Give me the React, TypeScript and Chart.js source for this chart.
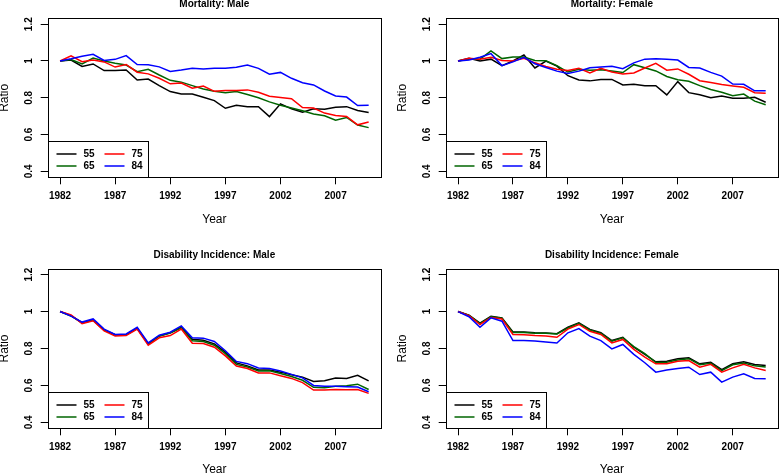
import React, { useEffect, useRef } from 'react';
import { Chart, registerables } from 'chart.js';

Chart.register(...registerables);

const FONT = '"Liberation Sans", Arial, Helvetica, sans-serif';

const years = [1982, 1983, 1984, 1985, 1986, 1987, 1988, 1989, 1990, 1991, 1992, 1993, 1994, 1995, 1996, 1997, 1998, 1999, 2000, 2001, 2002, 2003, 2004, 2005, 2006, 2007, 2008, 2009, 2010];
const xTickYears = [1982, 1987, 1992, 1997, 2002, 2007];
const yTickValues = [0.4, 0.6, 0.8, 1.0, 1.2];
const ageLabels = ['55', '65', '75', '84'];
const ageColors = ['#000000', '#006400', '#ff0000', '#0000ff'];

// Mortality: Male
const mortMale55 = [1.000, 1.005, 0.970, 0.984, 0.948, 0.948, 0.951, 0.897, 0.902, 0.866, 0.834, 0.821, 0.820, 0.803, 0.785, 0.743, 0.760, 0.752, 0.752, 0.698, 0.767, 0.740, 0.722, 0.740, 0.738, 0.749, 0.752, 0.731, 0.720];
const mortMale65 = [1.000, 1.008, 0.984, 1.016, 1.000, 0.988, 0.978, 0.942, 0.955, 0.924, 0.895, 0.885, 0.866, 0.848, 0.836, 0.828, 0.834, 0.818, 0.800, 0.778, 0.760, 0.745, 0.730, 0.712, 0.702, 0.678, 0.693, 0.652, 0.638];
const mortMale75 = [1.000, 1.028, 0.996, 1.005, 0.995, 0.967, 0.981, 0.939, 0.930, 0.906, 0.876, 0.880, 0.852, 0.864, 0.835, 0.839, 0.840, 0.843, 0.830, 0.808, 0.801, 0.795, 0.747, 0.744, 0.717, 0.704, 0.699, 0.653, 0.668];
const mortMale84 = [1.000, 1.012, 1.026, 1.036, 1.003, 1.009, 1.029, 0.981, 0.979, 0.968, 0.943, 0.951, 0.961, 0.957, 0.961, 0.960, 0.966, 0.978, 0.960, 0.928, 0.938, 0.906, 0.882, 0.870, 0.837, 0.810, 0.804, 0.758, 0.760];

// Mortality: Female
const mortFemale55 = [1.000, 1.015, 1.000, 1.010, 0.975, 1.000, 1.033, 0.962, 1.000, 0.972, 0.920, 0.897, 0.892, 0.900, 0.900, 0.870, 0.874, 0.865, 0.866, 0.816, 0.888, 0.828, 0.816, 0.800, 0.810, 0.797, 0.797, 0.803, 0.776];
const mortFemale65 = [1.000, 1.010, 1.010, 1.055, 1.013, 1.022, 1.022, 1.003, 1.001, 0.975, 0.940, 0.955, 0.950, 0.953, 0.945, 0.937, 0.980, 0.963, 0.946, 0.916, 0.898, 0.890, 0.866, 0.845, 0.830, 0.811, 0.820, 0.782, 0.762];
const mortFemale75 = [1.000, 1.015, 1.010, 1.020, 1.003, 1.000, 1.015, 0.990, 0.970, 0.955, 0.948, 0.960, 0.935, 0.960, 0.940, 0.930, 0.935, 0.962, 0.987, 0.950, 0.957, 0.928, 0.893, 0.883, 0.872, 0.864, 0.857, 0.828, 0.825];
const mortFemale84 = [1.000, 1.005, 1.020, 1.040, 0.975, 0.995, 1.020, 0.985, 0.965, 0.945, 0.932, 0.945, 0.963, 0.968, 0.972, 0.958, 0.990, 1.010, 1.012, 1.010, 1.005, 0.965, 0.962, 0.938, 0.918, 0.875, 0.873, 0.838, 0.838];

// Disability incidence: Male
const disMale55 = [1.000, 0.978, 0.940, 0.955, 0.900, 0.875, 0.875, 0.910, 0.825, 0.868, 0.885, 0.915, 0.850, 0.845, 0.825, 0.780, 0.722, 0.706, 0.684, 0.684, 0.672, 0.658, 0.645, 0.622, 0.625, 0.640, 0.638, 0.655, 0.625];
const disMale65 = [1.000, 0.976, 0.938, 0.953, 0.900, 0.873, 0.875, 0.908, 0.825, 0.868, 0.884, 0.912, 0.842, 0.838, 0.818, 0.772, 0.714, 0.700, 0.678, 0.680, 0.665, 0.648, 0.628, 0.590, 0.588, 0.595, 0.598, 0.607, 0.578];
const disMale75 = [1.000, 0.982, 0.935, 0.950, 0.895, 0.868, 0.870, 0.905, 0.818, 0.858, 0.870, 0.905, 0.828, 0.827, 0.807, 0.760, 0.705, 0.692, 0.668, 0.668, 0.652, 0.638, 0.615, 0.575, 0.575, 0.578, 0.577, 0.578, 0.557];
const disMale84 = [1.000, 0.975, 0.943, 0.960, 0.905, 0.876, 0.879, 0.915, 0.830, 0.872, 0.888, 0.922, 0.858, 0.856, 0.838, 0.788, 0.730, 0.718, 0.695, 0.692, 0.678, 0.660, 0.641, 0.600, 0.596, 0.596, 0.593, 0.591, 0.566];

// Disability incidence: Female
const disFemale55 = [1.000, 0.980, 0.937, 0.975, 0.966, 0.890, 0.889, 0.885, 0.884, 0.880, 0.915, 0.939, 0.903, 0.885, 0.843, 0.861, 0.807, 0.768, 0.728, 0.731, 0.744, 0.750, 0.717, 0.726, 0.686, 0.717, 0.728, 0.714, 0.708];
const disFemale65 = [1.000, 0.979, 0.935, 0.972, 0.964, 0.886, 0.886, 0.882, 0.882, 0.878, 0.911, 0.936, 0.900, 0.882, 0.840, 0.858, 0.810, 0.772, 0.724, 0.726, 0.738, 0.745, 0.712, 0.720, 0.680, 0.712, 0.722, 0.706, 0.700];
const disFemale75 = [1.000, 0.978, 0.930, 0.968, 0.960, 0.876, 0.874, 0.870, 0.868, 0.861, 0.905, 0.930, 0.893, 0.876, 0.830, 0.849, 0.795, 0.753, 0.717, 0.718, 0.731, 0.735, 0.699, 0.714, 0.672, 0.695, 0.714, 0.695, 0.681];
const disFemale84 = [1.000, 0.972, 0.915, 0.966, 0.948, 0.843, 0.843, 0.840, 0.835, 0.830, 0.885, 0.908, 0.867, 0.843, 0.798, 0.822, 0.768, 0.723, 0.672, 0.683, 0.692, 0.699, 0.659, 0.672, 0.618, 0.645, 0.663, 0.638, 0.636];

const frameAndLegend = {
  id: 'frameAndLegend',
  afterDraw(chart: any) {
    const { ctx, chartArea: a } = chart;
    ctx.save();
    ctx.strokeStyle = '#000';
    ctx.lineWidth = 1;
    const l = Math.round(a.left) + 0.5;
    const t = Math.round(a.top) + 0.5;
    const r = Math.round(a.right) + 0.5;
    const b = Math.round(a.bottom) + 0.5;
    ctx.strokeRect(l, t, r - l, b - t);
    // legend box (bottom-left, two columns, column-major order)
    const lw = 100;
    const lh = 36;
    const x0 = l;
    const y0 = b - lh;
    ctx.fillStyle = '#fff';
    ctx.fillRect(x0, y0, lw, lh);
    ctx.strokeRect(x0, y0, lw, lh);
    ctx.font = `bold 10px ${FONT}`;
    ctx.textAlign = 'left';
    ctx.textBaseline = 'middle';
    chart.data.datasets.forEach((ds: any, i: number) => {
      const col = Math.floor(i / 2);
      const row = i % 2;
      const cx = x0 + col * 48;
      const cy = y0 + 12.5 + row * 12;
      ctx.strokeStyle = ds.borderColor;
      ctx.lineWidth = 1.5;
      ctx.beginPath();
      ctx.moveTo(cx + 8, cy);
      ctx.lineTo(cx + 28, cy);
      ctx.stroke();
      ctx.fillStyle = '#000';
      ctx.fillText(ds.label, cx + 35, cy + 0.5);
    });
    ctx.restore();
  },
};

type PanelProps = {
  title: string;
  series: number[][];
  left: number;
  top: number;
  width: number;
  height: number;
  yW: number;
  xH: number;
  padRight: number;
  titlePadBottom: number;
};

function Panel(p: PanelProps) {
  const ref = useRef<HTMLCanvasElement>(null);
  useEffect(() => {
    if (!ref.current) return;
    const datasets = p.series.map((vals, i) => ({
      label: ageLabels[i],
      data: years.map((yr, j) => ({ x: yr, y: vals[j] })),
      borderColor: ageColors[i],
      backgroundColor: ageColors[i],
      borderWidth: 1.5,
      pointRadius: 0,
      tension: 0,
      fill: false,
      order: 3 - i,
    }));
    const chart = new Chart(ref.current, {
      type: 'line',
      data: { datasets },
      options: {
        animation: false,
        responsive: false,
        devicePixelRatio: 1,
        layout: { padding: { top: 0, left: 0, right: p.padRight, bottom: 0 } },
        plugins: {
          legend: { display: false },
          tooltip: { enabled: false },
          title: {
            display: true,
            text: p.title,
            fullSize: false,
            color: '#000',
            font: { family: FONT, size: 10, weight: 'bold', lineHeight: 1.2 },
            padding: { top: 0, bottom: p.titlePadBottom },
          },
        },
        scales: {
          x: {
            type: 'linear',
            min: 1980.88,
            max: 2011.12,
            afterBuildTicks: (s: any) => {
              s.ticks = xTickYears.map((v) => ({ value: v }));
            },
            afterFit: (s: any) => {
              s.height = p.xH;
            },
            grid: { drawOnChartArea: false, drawTicks: true, tickLength: 7, color: '#000', lineWidth: 1 },
            border: { display: false },
            ticks: {
              autoSkip: false,
              maxRotation: 0,
              minRotation: 0,
              padding: 5.5,
              color: '#000',
              font: { family: FONT, size: 10, weight: 'bold', lineHeight: 1.2 },
              callback: (v: any) => String(v),
            },
            title: {
              display: true,
              text: 'Year',
              color: '#000',
              font: { family: FONT, size: 12, lineHeight: 1 },
              padding: { top: 0, bottom: 0 },
            },
          },
          y: {
            type: 'linear',
            min: 0.368,
            max: 1.232,
            afterBuildTicks: (s: any) => {
              s.ticks = yTickValues.map((v) => ({ value: v }));
            },
            afterFit: (s: any) => {
              s.width = p.yW;
            },
            grid: { drawOnChartArea: false, drawTicks: true, tickLength: 7, color: '#000', lineWidth: 1 },
            border: { display: false },
            ticks: {
              autoSkip: false,
              minRotation: 90,
              maxRotation: 90,
              crossAlign: 'center',
              padding: 4,
              color: '#000',
              font: { family: FONT, size: 10, weight: 'bold', lineHeight: 1.2 },
              callback: (v: any) => String(+Number(v).toFixed(2)),
            },
            title: {
              display: true,
              text: 'Ratio',
              color: '#000',
              font: { family: FONT, size: 12, lineHeight: 1 },
              padding: { top: 0, bottom: 0 },
            },
          },
        },
      } as any,
      plugins: [frameAndLegend],
    });
    return () => chart.destroy();
  }, []);
  return (
    <canvas
      ref={ref}
      width={p.width}
      height={p.height}
      style={{ position: 'absolute', left: p.left, top: p.top, width: p.width, height: p.height }}
    />
  );
}

export default function App() {
  return (
    <div style={{ position: 'fixed', left: 0, top: 0, width: 779, height: 475, overflow: 'hidden', background: '#fff' }}>
      <Panel title="Mortality: Male" series={[mortMale55, mortMale65, mortMale75, mortMale84]}
        left={-1} top={-2} width={392} height={228} yW={48.7} xH={48.7} padRight={10} titlePadBottom={8.3} />
      <Panel title="Mortality: Female" series={[mortFemale55, mortFemale65, mortFemale75, mortFemale84]}
        left={397} top={-2} width={382} height={228} yW={48.7} xH={48.7} padRight={1} titlePadBottom={8.3} />
      <Panel title="Disability Incidence: Male" series={[disMale55, disMale65, disMale75, disMale84]}
        left={-1} top={249} width={392} height={227} yW={48.7} xH={47.7} padRight={10} titlePadBottom={7.7} />
      <Panel title="Disability Incidence: Female" series={[disFemale55, disFemale65, disFemale75, disFemale84]}
        left={397} top={249} width={382} height={227} yW={48.7} xH={47.7} padRight={1} titlePadBottom={7.7} />
    </div>
  );
}
